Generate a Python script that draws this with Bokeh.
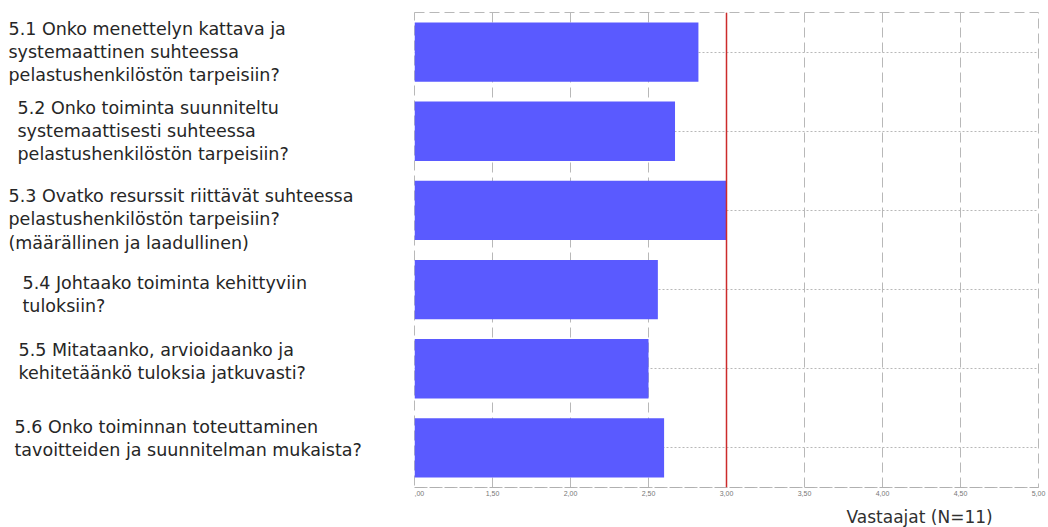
from bokeh.plotting import figure
from bokeh.models import FactorRange, Range1d, Span, FixedTicker, Title, ColumnDataSource
from bokeh.layouts import row
from bokeh.core.properties import value
from bokeh.embed import file_html
from bokeh.resources import INLINE

# ---- data ----
categories = ["5.1", "5.2", "5.3", "5.4", "5.5", "5.6"]
questions = [
    "5.1 Onko menettelyn kattava ja\nsystemaattinen suhteessa\npelastushenkilöstön tarpeisiin?",
    "5.2 Onko toiminta suunniteltu\nsystemaattisesti suhteessa\npelastushenkilöstön tarpeisiin?",
    "5.3 Ovatko resurssit riittävät suhteessa\npelastushenkilöstön tarpeisiin?\n(määrällinen ja laadullinen)",
    "5.4 Johtaako toiminta kehittyviin\ntuloksiin?",
    "5.5 Mitataanko, arvioidaanko ja\nkehitetäänkö tuloksia jatkuvasti?",
    "5.6 Onko toiminnan toteuttaminen\ntavoitteiden ja suunnitelman mukaista?",
]
values = [2.82, 2.67, 3.00, 2.56, 2.50, 2.60]
tick_values = [1.0, 1.5, 2.0, 2.5, 3.0, 3.5, 4.0, 4.5, 5.0]
tick_labels = [",00", "1,50", "2,00", "2,50", "3,00", "3,50", "4,00", "4,50", "5,00"]
reference_value = 3.0
axis_title = "Vastaajat (N=11)"

# layout / style: pixel offsets of the question labels
label_indent = [8, 17, 8, 22, 18, 14]
label_dy = [0, 0, 9, 5, -7, -9]

FONT = "DejaVu Sans"
FRAME_H = 475
LEFT_W = 414

y_range = FactorRange(factors=list(reversed(categories)), range_padding=0)

src = ColumnDataSource(dict(cat=categories, val=values, q=questions,
                            indent=label_indent, dy=label_dy,
                            left=[tick_values[0]] * len(values)))

# ---- left: question labels ----
lp = figure(frame_width=LEFT_W, frame_height=FRAME_H, x_range=Range1d(0, LEFT_W), y_range=y_range,
            output_backend="svg", toolbar_location=None,
            min_border_left=0, min_border_right=0, min_border_top=12, min_border_bottom=0)
lp.axis.visible = False
lp.grid.visible = False
lp.outline_line_color = None
lp.text(x="indent", y="cat", text="q", y_offset="dy", source=src, text_font=value(FONT),
        text_font_size="17.5px", text_color="#262626", text_baseline="middle",
        text_align="left", text_line_height=1.155)

# ---- right: bars ----
p = figure(frame_width=624, frame_height=FRAME_H, x_range=Range1d(1, 5), y_range=y_range,
           output_backend="svg", toolbar_location=None,
           min_border_left=0, min_border_right=10, min_border_top=12, min_border_bottom=0)

p.hbar(y="cat", left="left", right="val", height=0.75, source=src,
       fill_color="#5a5aff", line_color=None)

p.add_layout(Span(location=reference_value, dimension="height",
                  line_color="#cc2b2b", line_width=1.5))

p.yaxis.visible = False
p.xaxis.ticker = FixedTicker(ticks=tick_values)
p.xaxis.major_label_overrides = {t: l for t, l in zip(tick_values, tick_labels)}
p.xaxis.major_label_text_font_size = "7px"
p.xaxis.major_label_text_color = "#777777"
p.xaxis.major_label_standoff = 3
p.xaxis.major_tick_out = 0
p.xaxis.major_tick_in = 0
p.xaxis.minor_tick_out = 0
p.xaxis.minor_tick_in = 0
p.xaxis.axis_line_color = "#b0b0b0"
p.xaxis.axis_line_dash = "10 5"

p.xgrid.ticker = FixedTicker(ticks=tick_values)
p.xgrid.grid_line_color = "#b8b8b8"
p.xgrid.grid_line_dash = "10 5"
p.ygrid.grid_line_color = "#b8b8b8"
p.ygrid.grid_line_dash = "2 2"

p.outline_line_color = "#b8b8b8"
p.outline_line_dash = "10 5"

p.add_layout(Title(text=axis_title, align="left", offset=432, text_font=FONT,
                   text_font_size="17px", text_font_style="normal",
                   text_color="#303030", standoff=12), "below")

layout = row(lp, p)
open("out.html", "w").write(file_html(layout, INLINE))
